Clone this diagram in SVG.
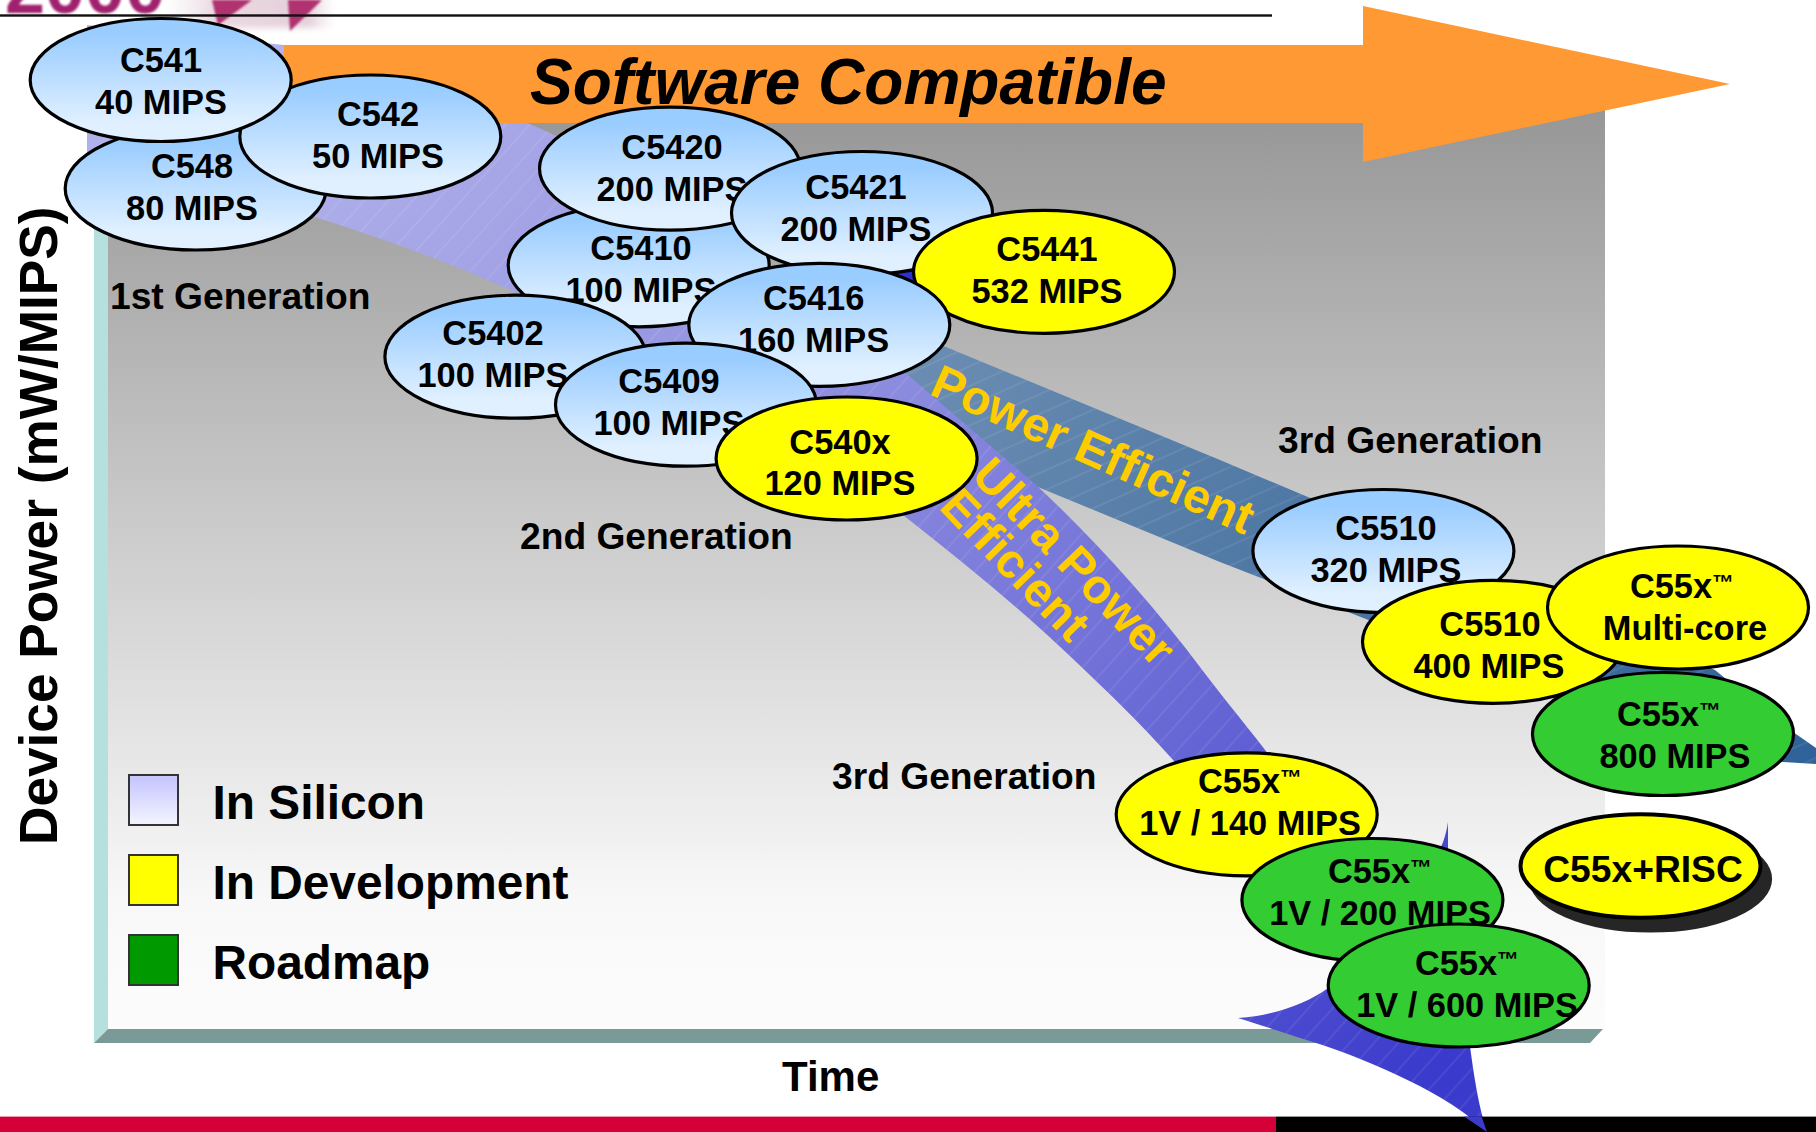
<svg xmlns="http://www.w3.org/2000/svg" width="1816" height="1132" viewBox="0 0 1816 1132">
<style>
text{font-family:"Liberation Sans",Arial,sans-serif;font-weight:700;fill:#000}
.n{font-size:34.4px;text-anchor:middle;transform:translateY(1px)}
.g{font-size:37.2px}
.l{font-size:47.8px}
.o{font-size:48px;fill:#ffcc00}
.tm{font-size:22px}
ellipse{stroke:#000;stroke-width:3.2}
.b{fill:url(#blue)}
.y{fill:#ffff00}
.v{fill:#33cc33}
.sw{stroke:#333;stroke-width:2}
</style>
<defs>
<linearGradient id="panel" gradientUnits="userSpaceOnUse" x1="0" y1="40" x2="0" y2="1029">
<stop offset="0" stop-color="#8e8e8e"/><stop offset=".532" stop-color="#d0d0d0"/><stop offset=".87" stop-color="#f8f8f8"/><stop offset="1" stop-color="#fcfcfc"/>
</linearGradient>
<linearGradient id="blue" x1="0" y1="0" x2="0" y2="1">
<stop offset=".12" stop-color="#99ccff"/><stop offset=".85" stop-color="#e0f0ff"/>
</linearGradient>
<linearGradient id="sil" x1="0" y1="0" x2="0" y2="1">
<stop offset=".1" stop-color="#c8c8ff"/><stop offset=".9" stop-color="#f0f0ff"/>
</linearGradient>
<linearGradient id="ultra" gradientUnits="userSpaceOnUse" x1="300" y1="130" x2="1450" y2="1050">
<stop offset="0" stop-color="#b0b0ea"/><stop offset=".42" stop-color="#8c8cdf"/><stop offset=".7" stop-color="#6a6ad6"/><stop offset="1" stop-color="#3a3acc"/>
</linearGradient>
<linearGradient id="power" gradientUnits="userSpaceOnUse" x1="940" y1="340" x2="1816" y2="760">
<stop offset="0" stop-color="#6a8cb2"/><stop offset=".4" stop-color="#4f78a4"/><stop offset="1" stop-color="#2f6299"/>
</linearGradient>
<linearGradient id="pale" x1="0" y1="0" x2="1" y2="0">
<stop offset="0" stop-color="#f0e4ea" stop-opacity="0"/><stop offset=".3" stop-color="#ead8e0"/><stop offset=".85" stop-color="#e4d0da"/><stop offset="1" stop-color="#f0e4ea" stop-opacity="0"/>
</linearGradient>
<pattern id="hatchU" width="18" height="18" patternUnits="userSpaceOnUse" patternTransform="rotate(-48)">
<line x1="0" y1="9" x2="18" y2="9" stroke="#fff" stroke-opacity=".15" stroke-width="1"/>
</pattern>
<pattern id="hatchP" width="18" height="18" patternUnits="userSpaceOnUse" patternTransform="rotate(-24)">
<line x1="0" y1="9" x2="18" y2="9" stroke="#fff" stroke-opacity=".15" stroke-width="1"/>
</pattern>
<filter id="soft" x="-10%" y="-50%" width="120%" height="200%"><feGaussianBlur stdDeviation="1.3"/></filter>
<filter id="softer" x="-10%" y="-50%" width="120%" height="200%"><feGaussianBlur stdDeviation="3"/></filter>
<path id="pU" d="M87,25 L284,45 L527,123 C570,140 600,160 640,190 C690,235 720,260 760,280 C800,302 850,330 908,375 L1035,484 C1090,535 1150,600 1203,671 C1240,720 1270,752 1300,800 C1340,850 1420,870 1432,860 C1442,850 1446,835 1448,822 L1448,870 L1470,1046 C1475,1085 1480,1110 1487,1132 C1450,1095 1370,1060 1313,1042 C1285,1033 1260,1025 1238,1018 C1270,1016 1305,1005 1328,988 L1400,960 L1340,880 L1230,830 L1174,761 C1142,725 1108,692 1072,658 C1020,608 960,560 903,515 C830,470 700,380 600,330 L515,292 C450,262 380,238 315,217 L87,152 Z"/>
<path id="pP" d="M900,328 L1220,460 L1500,578 L1715,670 C1745,695 1775,720 1793,732 L1816,748 L1816,764 L1783,762 L1600,717 L1371,621 L1220,562 L1033,485 L900,430 Z"/>
</defs>

<g id="logo">
<rect x="165" y="-6" width="170" height="34" fill="url(#pale)" filter="url(#softer)"/>
<g filter="url(#soft)">
<polygon points="212,0 252,0 218,25" fill="#b0306f"/>
<polygon points="288,0 322,0 290,31" fill="#b0306f"/>
<text x="5" y="13" style="font-size:72px;fill:#a0246e">2000</text>
</g>
</g>
<rect id="rule" x="0" y="14.3" width="1272" height="2.4" fill="#111"/>

<g id="chart">
<rect x="108" y="60" width="1497" height="969" fill="url(#panel)"/>
<polygon points="94,60 108,60 108,1029 94,1043" fill="#b5e0de"/>
<polygon points="94,1043 108,1029 1603,1029 1590,1043" fill="#7a9a98"/>
</g>

<g id="connectors">
<polygon points="880,273 914,271 916,290 880,290" fill="#3030d0"/>
<use href="#pP" fill="url(#power)"/><use href="#pP" fill="url(#hatchP)"/>
<use href="#pU" fill="url(#ultra)"/><use href="#pU" fill="url(#hatchU)"/>
</g>

<polygon id="arrow" points="284,45 1363,45 1363,6 1730,84 1363,162 1363,123 284,123" fill="#ff9933"/>
<text id="arrow-label" x="530" y="104" style="font-size:64px;font-style:italic">Software Compatible</text>

<g id="band-labels">
<text class="o" transform="translate(928,394) rotate(24)">Power Efficient</text>
<text class="o" transform="translate(970,477) rotate(46)">Ultra Power</text>
<text class="o" transform="translate(938,508) rotate(46)">Efficient</text>
</g>

<g id="gen-labels">
<text class="g" x="110" y="309">1st Generation</text>
<text class="g" x="520" y="549">2nd Generation</text>
<text class="g" x="1278" y="453">3rd Generation</text>
<text class="g" x="832" y="789">3rd Generation</text>
</g>

<text id="y-axis" transform="translate(56.7,845) rotate(-90)" style="font-size:53.2px">Device Power (mW/MIPS)</text>
<text id="x-axis" x="782" y="1091" style="font-size:42px">Time</text>

<g id="legend">
<rect class="sw" x="129" y="775" width="49" height="50" fill="url(#sil)"/>
<rect class="sw" x="129" y="855" width="49" height="50" fill="#ffff00"/>
<rect class="sw" x="129" y="935" width="49" height="50" fill="#009900"/>
<text class="l" x="212.5" y="819">In Silicon</text>
<text class="l" x="212.5" y="899">In Development</text>
<text class="l" x="212.5" y="979">Roadmap</text>
</g>

<g id="n-c548"><ellipse class="b" cx="195.7" cy="188.5" rx="130.5" ry="61.5"/><text class="n" x="192" y="177">C548</text><text class="n" x="192" y="219">80 MIPS</text></g>
<g id="n-c542"><ellipse class="b" cx="370.3" cy="136.5" rx="130.5" ry="61.5"/><text class="n" x="378" y="125">C542</text><text class="n" x="378" y="167">50 MIPS</text></g>
<g id="n-c541"><ellipse class="b" cx="160.7" cy="80" rx="130.5" ry="61.5"/><text class="n" x="161" y="70.5">C541</text><text class="n" x="161" y="112.5">40 MIPS</text></g>
<g id="n-c5410"><ellipse class="b" cx="638.7" cy="265.3" rx="130.5" ry="61.5"/><text class="n" x="641" y="259">C5410</text><text class="n" x="641" y="301">100 MIPS</text></g>
<g id="n-c5420"><ellipse class="b" cx="670" cy="168.6" rx="130.5" ry="61.5"/><text class="n" x="672" y="158">C5420</text><text class="n" x="672" y="200">200 MIPS</text></g>
<g id="n-c5421"><ellipse class="b" cx="862" cy="213" rx="130.5" ry="61.5"/><text class="n" x="856" y="197.5">C5421</text><text class="n" x="856" y="240">200 MIPS</text></g>
<g id="n-c5441"><ellipse class="y" cx="1044" cy="271.8" rx="130.5" ry="61.5"/><text class="n" x="1047" y="260">C5441</text><text class="n" x="1047" y="301.5">532 MIPS</text></g>
<g id="n-c5416"><ellipse class="b" cx="819.3" cy="324.9" rx="130.5" ry="61.5"/><text class="n" x="813.6" y="309.4">C5416</text><text class="n" x="813.6" y="351">160 MIPS</text></g>
<g id="n-c5402"><ellipse class="b" cx="515.4" cy="356.7" rx="130.5" ry="61.5"/><text class="n" x="493" y="344">C5402</text><text class="n" x="493" y="386">100 MIPS</text></g>
<g id="n-c5409"><ellipse class="b" cx="686" cy="404.7" rx="130.5" ry="61.5"/><text class="n" x="669" y="392">C5409</text><text class="n" x="669" y="434">100 MIPS</text></g>
<g id="n-c540x"><ellipse class="y" cx="846.6" cy="458.5" rx="130.5" ry="61.5"/><text class="n" x="840" y="453.4">C540x</text><text class="n" x="840" y="494">120 MIPS</text></g>
<g id="n-c5510a"><ellipse class="b" cx="1383.4" cy="551" rx="130.5" ry="61.5"/><text class="n" x="1386" y="539">C5510</text><text class="n" x="1386" y="581">320 MIPS</text></g>
<g id="n-c5510b"><ellipse class="y" cx="1493" cy="641.8" rx="130.5" ry="61.5"/><text class="n" x="1490" y="635">C5510</text><text class="n" x="1489" y="677">400 MIPS</text></g>
<g id="n-multi"><ellipse class="y" cx="1678" cy="607.5" rx="130.5" ry="61.5"/><text class="n" x="1682" y="597.4">C55x<tspan class="tm" dy="-8">™</tspan></text><text class="n" x="1685" y="639">Multi-core</text></g>
<g id="n-800"><ellipse class="v" cx="1663" cy="734" rx="130.5" ry="61.5"/><text class="n" x="1669" y="725">C55x<tspan class="tm" dy="-8">™</tspan></text><text class="n" x="1675" y="767">800 MIPS</text></g>
<g id="n-140"><ellipse class="y" cx="1246.7" cy="814.4" rx="130.5" ry="61.5"/><text class="n" x="1250" y="792">C55x<tspan class="tm" dy="-8">™</tspan></text><text class="n" x="1250" y="834">1V / 140 MIPS</text></g>
<g id="n-200"><ellipse class="v" cx="1372.4" cy="900" rx="130.5" ry="61.5"/><text class="n" x="1380" y="882">C55x<tspan class="tm" dy="-8">™</tspan></text><text class="n" x="1380" y="924">1V / 200 MIPS</text></g>
<g id="n-600"><ellipse class="v" cx="1458.7" cy="985.5" rx="130.5" ry="61.5"/><text class="n" x="1467" y="974">C55x<tspan class="tm" dy="-8">™</tspan></text><text class="n" x="1467" y="1016">1V / 600 MIPS</text></g>
<g id="n-risc"><ellipse cx="1650.5" cy="879" rx="120" ry="52" fill="#262626" style="stroke:#262626"/><ellipse class="y" cx="1640.5" cy="866" rx="120" ry="51.8" style="stroke-width:4"/><text class="n" x="1643" y="882" style="font-size:37.2px;transform:none">C55x+RISC</text></g>

<g id="footer">
<rect x="0" y="1116.6" width="1276" height="15.4" fill="#d40037"/>
<rect x="1276" y="1116.6" width="540" height="15.4" fill="#000"/>
</g>
<path id="tail-over-footer" d="M1464,1116.6 L1481.5,1116.6 L1487,1132 Z" fill="#3a3acc"/>
</svg>
